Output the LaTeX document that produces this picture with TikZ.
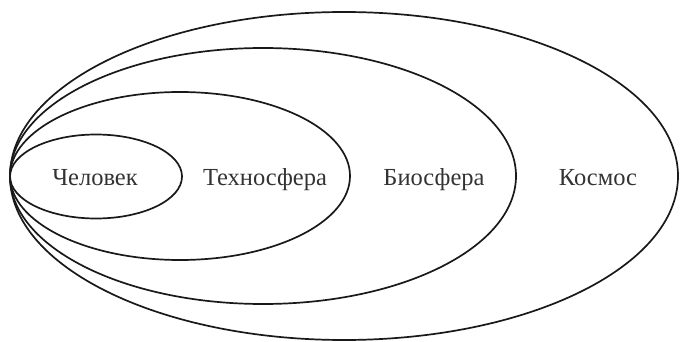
\documentclass[tikz,border=0pt]{standalone}
\usepackage{fontspec}
\setmainfont{Liberation Serif}
\usetikzlibrary{shapes.geometric}
\begin{document}
\begin{tikzpicture}[x=1pt,y=-1pt,
  ring/.style={draw=black!90, line width=1.7pt, ellipse, inner sep=0pt, outer sep=0pt},
  lbl/.style={font=\fontsize{24.5}{28}\selectfont, text=black!80, inner sep=0pt, anchor=base}]
\useasboundingbox (0,0) rectangle (680,342);
\node[ring, minimum width=668pt, minimum height=328pt] (kosmos) at (344,176) {};
\node[ring, minimum width=506pt, minimum height=256pt] (bio) at (263,176) {};
\node[ring, minimum width=340pt, minimum height=168pt] (tech) at (180,176) {};
\node[ring, minimum width=172pt, minimum height=84pt] (man) at (96,176.5) {};
\node[lbl] (tman) at (95,185) {Человек};
\node[lbl] (ttech) at (265,185) {Техносфера};
\node[lbl] (tbio) at (434,185) {Биосфера};
\node[lbl] (tkos) at (598,185) {Космос};
\end{tikzpicture}
\end{document}
